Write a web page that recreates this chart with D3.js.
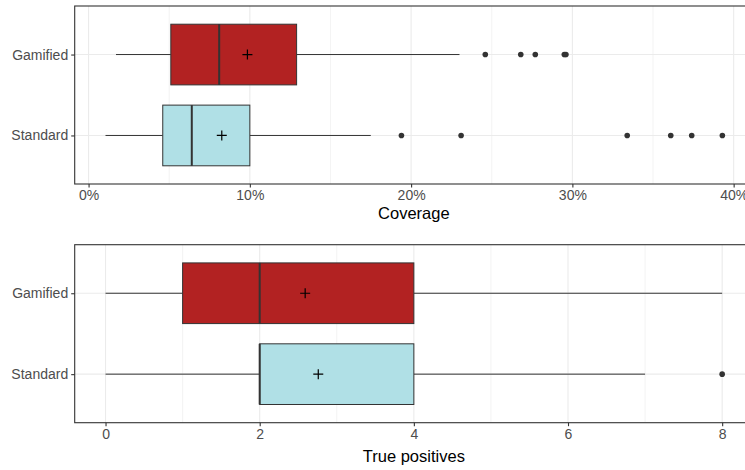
<!DOCTYPE html>
<html>
<head>
<meta charset="utf-8">
<script src="https://cdn.jsdelivr.net/npm/d3@7"></script>
<style>
  body { margin: 0; background: #fff; }
  svg { display: block; font-family: "Liberation Sans", Arial, sans-serif; }
</style>
</head>
<body>
<svg id="chart" width="745" height="470"></svg>
<script>
// categories, top to bottom
const groups = ["Gamified", "Standard"];
const fills = ["#B22222", "#B0E0E6"];

// coverage (%) : [whiskerLow, q1, median, q3, whiskerHigh], mean, outliers
const coverageStats = [
  [1.7, 5.1, 8.1, 12.9, 23.0],
  [1.05, 4.6, 6.4, 10.0, 17.5]
];
const coverageMeans = [9.85, 8.26];
const coverageOutliers = [
  [24.6, 26.8, 27.7, 29.5, 29.6],
  [19.4, 23.1, 33.4, 36.1, 37.4, 39.3]
];
const coverageTicks = [0, 10, 20, 30, 40];

// true positives
const tpStats = [
  [0, 1, 2, 4, 8],
  [0, 2, 2, 4, 7]
];
const tpMeans = [2.59, 2.76];
const tpOutliers = [[], [8]];
const tpTicks = [0, 2, 4, 6, 8];

const svg = d3.select("#chart");

const drawPanel = (opt) => {
  const g = svg.append("g");
  const x = d3.scaleLinear().domain(opt.domain).range([opt.left, opt.right]);
  // discrete axis like ggplot: 0.6 units of padding on each side
  const y = d3.scalePoint().domain(groups).range([opt.top, opt.bottom]).padding(0.6);
  const boxH = y.step() * 0.75;

  // grid
  const minor = d3.range(opt.minorStart, opt.domain[1], opt.step);
  g.selectAll(".minor").data(minor).enter().append("line")
    .attr("x1", d => x(d)).attr("x2", d => x(d))
    .attr("y1", opt.top).attr("y2", opt.bottom)
    .attr("stroke", "#ebebeb").attr("stroke-width", 0.6);
  g.selectAll(".major").data(opt.ticks).enter().append("line")
    .attr("x1", d => x(d)).attr("x2", d => x(d))
    .attr("y1", opt.top).attr("y2", opt.bottom)
    .attr("stroke", "#ebebeb").attr("stroke-width", 1.1);
  g.selectAll(".hgrid").data(groups).enter().append("line")
    .attr("x1", opt.left).attr("x2", opt.right)
    .attr("y1", d => y(d)).attr("y2", d => y(d))
    .attr("stroke", "#ebebeb").attr("stroke-width", 1.1);

  groups.forEach((name, i) => {
    const s = opt.stats[i];
    const c = y(name);
    // whiskers
    g.append("line").attr("x1", x(s[0])).attr("x2", x(s[1]))
      .attr("y1", c).attr("y2", c).attr("stroke", "#333").attr("stroke-width", 1);
    g.append("line").attr("x1", x(s[3])).attr("x2", x(s[4]))
      .attr("y1", c).attr("y2", c).attr("stroke", "#333").attr("stroke-width", 1);
    // box
    g.append("rect").attr("x", x(s[1])).attr("width", x(s[3]) - x(s[1]))
      .attr("y", c - boxH / 2).attr("height", boxH)
      .attr("fill", fills[i]).attr("stroke", "#333").attr("stroke-width", 1);
    // median
    g.append("line").attr("x1", x(s[2])).attr("x2", x(s[2]))
      .attr("y1", c - boxH / 2).attr("y2", c + boxH / 2)
      .attr("stroke", "#333").attr("stroke-width", 2);
    // outliers
    g.selectAll(".out" + i).data(opt.outliers[i]).enter().append("circle")
      .attr("cx", d => x(d)).attr("cy", c).attr("r", 2.8).attr("fill", "#333");
    // mean
    const m = x(opt.means[i]);
    g.append("path").attr("d", `M${m - 5},${c}H${m + 5}M${m},${c - 5}V${c + 5}`)
      .attr("stroke", "#000").attr("stroke-width", 1.2);
  });

  // panel border
  g.append("rect").attr("x", opt.left).attr("y", opt.top)
    .attr("width", opt.right - opt.left).attr("height", opt.bottom - opt.top)
    .attr("fill", "none").attr("stroke", "#333").attr("stroke-width", 1.1);

  // x axis
  const xAxis = d3.axisBottom(x).tickValues(opt.ticks).tickFormat(opt.format).tickSize(3.5).tickPadding(3);
  const ax = g.append("g").attr("transform", `translate(0,${opt.bottom})`).call(xAxis);
  ax.select(".domain").remove();
  ax.selectAll("line").attr("stroke", "#333").attr("stroke-width", 1.1);
  ax.selectAll("text").attr("fill", "#4d4d4d").style("font-size", "14px");

  // y axis
  const yAxis = d3.axisLeft(y).tickSize(3.5).tickPadding(3);
  const ay = g.append("g").attr("transform", `translate(${opt.left},0)`).call(yAxis);
  ay.select(".domain").remove();
  ay.selectAll("line").attr("stroke", "#333").attr("stroke-width", 1.1);
  ay.selectAll("text").attr("fill", "#4d4d4d").style("font-size", "14px");

  // title
  g.append("text").attr("x", (opt.left + opt.right) / 2).attr("y", opt.titleY)
    .attr("text-anchor", "middle").attr("fill", "#000").style("font-size", "16.5px")
    .text(opt.title);
};

drawPanel({
  domain: [-0.86, 41.2], left: 74.7, right: 753, top: 6, bottom: 184,
  stats: coverageStats, means: coverageMeans, outliers: coverageOutliers,
  ticks: coverageTicks, minorStart: 5, step: 10, format: d => d + "%",
  title: "Coverage", titleY: 219
});

drawPanel({
  domain: [-0.4, 8.4], left: 74.7, right: 753, top: 244.7, bottom: 422.7,
  stats: tpStats, means: tpMeans, outliers: tpOutliers,
  ticks: tpTicks, minorStart: 1, step: 2, format: d3.format("d"),
  title: "True positives", titleY: 462
});
</script>
</body>
</html>
